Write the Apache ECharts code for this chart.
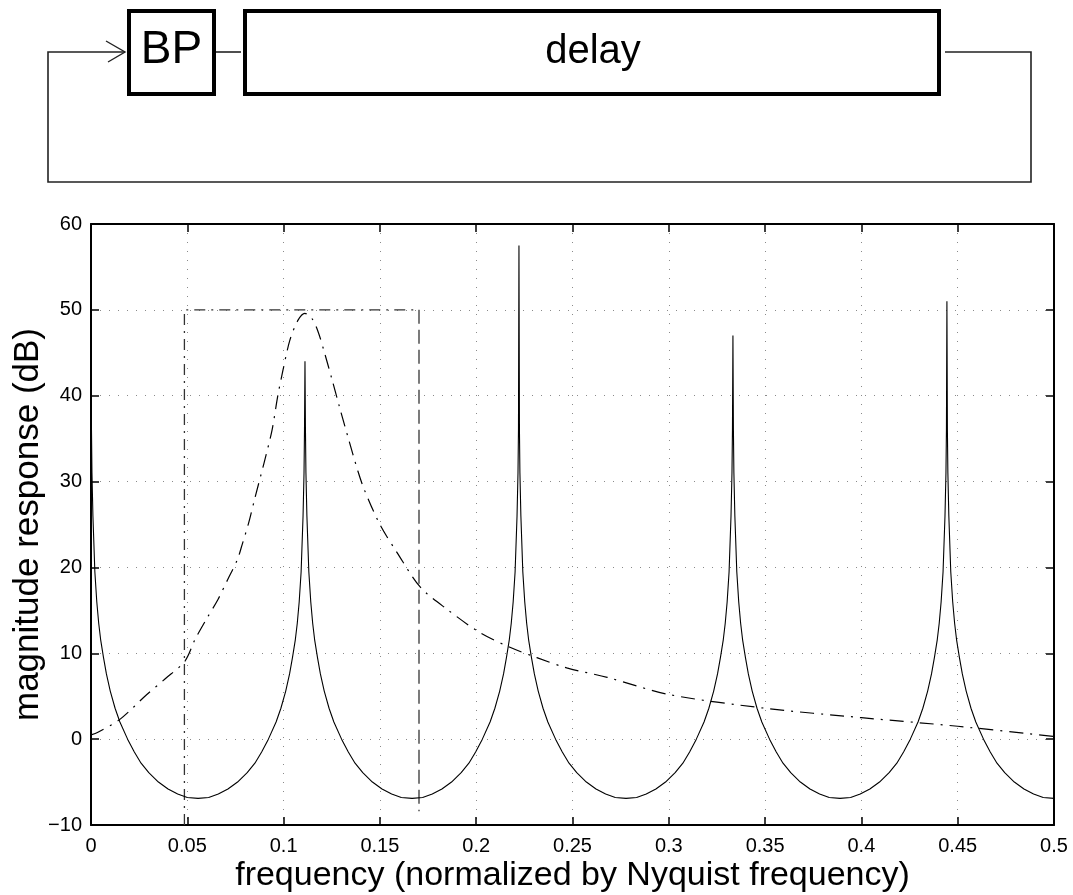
<!DOCTYPE html>
<html>
<head>
<meta charset="utf-8">
<script src="https://cdn.jsdelivr.net/npm/echarts@6/dist/echarts.min.js"></script>
<style>
html,body{margin:0;padding:0;background:#fff;}
#chart{width:1073px;height:895px;}
</style>
</head>
<body>
<div id="chart"></div>
<script>
// ---- data ----
// comb-filter resonance peaks (frequency, dB)
const peakFreqs = [0, 0.1111, 0.2222, 0.3333, 0.4444];
const peakDb    = [42, 44, 57.5, 47, 51];
// shape of one lobe: distance from a peak -> dB
const lobeOffsets = [0.00025, 0.0005, 0.001, 0.002, 0.003, 0.004, 0.005, 0.0065, 0.008, 0.010, 0.0125, 0.015, 0.019, 0.0225, 0.026, 0.030, 0.035, 0.040, 0.045, 0.050, 0.0556];
const lobeDb      = [36, 31, 26, 19.5, 16, 13.5, 11.6, 9.5, 7.6, 5.6, 3.6, 2.0, 0, -1.5, -2.8, -3.9, -5.0, -5.8, -6.4, -6.8, -6.9];

// band-pass filter response (dash-dot)
const bpFreq = [0, 0.0036, 0.015, 0.029, 0.0384, 0.0488, 0.054, 0.060, 0.066, 0.071, 0.076, 0.0784, 0.082, 0.085, 0.090, 0.094, 0.097, 0.0997, 0.1033, 0.1075, 0.111, 0.1147, 0.118, 0.1215, 0.125, 0.129, 0.1334, 0.1386, 0.142, 0.150, 0.159, 0.171, 0.185, 0.202, 0.2175, 0.2315, 0.247, 0.268, 0.30, 0.35, 0.40, 0.45, 0.5];
const bpDb   = [0.5, 0.8, 2.3, 5.2, 7.0, 9.1, 11.6, 14, 16.3, 18.6, 20.9, 22.6, 25.3, 28, 32.3, 36, 40, 43, 46.5, 48.8, 49.6, 49, 47.4, 44.8, 42, 38.7, 35.2, 31.2, 29, 25, 21.7, 17.7, 15.1, 12.4, 10.7, 9.5, 8.3, 7.2, 5.2, 3.6, 2.5, 1.5, 0.3];

// ideal pass band outline
const bandEdges = [0.0485, 0.1703];
const bandTop = 50;
const bandBottoms = [-10, -8.4];

const xTicks = [0, 0.05, 0.1, 0.15, 0.2, 0.25, 0.3, 0.35, 0.4, 0.45, 0.5];
const yTicks = [-10, 0, 10, 20, 30, 40, 50, 60];

// ---- build tables ----
const combData = [];
peakFreqs.forEach(function (p, i) {
  if (i > 0) {
    for (let k = lobeOffsets.length - 2; k >= 0; k--) combData.push([p - lobeOffsets[k], lobeDb[k]]);
  }
  combData.push([p, peakDb[i]]);
  for (let k = 0; k < lobeOffsets.length; k++) {
    const f = p + lobeOffsets[k];
    if (f <= 0.5 + 1e-9) combData.push([Math.min(f, 0.5), lobeDb[k]]);
  }
});
const bpData = bpFreq.map(function (f, i) { return [f, bpDb[i]]; });
const bandOutline = [[bandEdges[0], bandBottoms[0]], [bandEdges[0], bandTop], [bandEdges[1], bandTop]];
const bandRight = [[bandEdges[1], bandTop], [bandEdges[1], bandBottoms[1]]];

const FONT = '"Liberation Sans", Arial, Helvetica, sans-serif';
const chart = echarts.init(document.getElementById('chart'), null, {renderer: 'canvas'});

function fmtY(v) { return v < 0 ? '\u2212' + Math.abs(v) : String(v); }

const gridStyle = {show: true, lineStyle: {color: '#8a8a8a', width: 1, type: [1, 8]}};
const xBase = {type: 'value', min: xTicks[0], max: xTicks[xTicks.length - 1], interval: 0.05};
const yBase = {type: 'value', min: yTicks[0], max: yTicks[yTicks.length - 1], interval: 10};

chart.setOption({
  animation: false,
  backgroundColor: '#fff',
  grid: {left: 91, right: 19, top: 224, bottom: 70, containLabel: false, outerBoundsMode: 'none'},
  xAxis: [
    Object.assign({}, xBase, {
      position: 'bottom',
      axisLine: {show: true, onZero: false, lineStyle: {color: '#000', width: 2}},
      axisTick: {show: true, inside: true, length: 8, lineStyle: {color: '#000', width: 1.5}},
      axisLabel: {show: true, color: '#000', fontSize: 20, fontFamily: FONT, margin: 11,
                  formatter: function (v) { return String(+v.toFixed(2)); }},
      splitLine: gridStyle,
      name: 'frequency (normalized by Nyquist frequency)',
      nameLocation: 'middle', nameGap: 34, nameMoveOverlap: false,
      nameTextStyle: {color: '#000', fontSize: 34, fontFamily: FONT}
    }),
    Object.assign({}, xBase, {
      position: 'top',
      axisLine: {show: true, onZero: false, lineStyle: {color: '#000', width: 2}},
      axisTick: {show: true, inside: true, length: 8, lineStyle: {color: '#000', width: 1.5}},
      axisLabel: {show: false},
      splitLine: {show: false}
    })
  ],
  yAxis: [
    Object.assign({}, yBase, {
      position: 'left',
      axisLine: {show: true, onZero: false, lineStyle: {color: '#000', width: 2}},
      axisTick: {show: true, inside: true, length: 8, lineStyle: {color: '#000', width: 1.5}},
      axisLabel: {show: true, color: '#000', fontSize: 20, fontFamily: FONT, margin: 9, formatter: fmtY},
      splitLine: gridStyle,
      name: 'magnitude response (dB)',
      nameLocation: 'middle', nameGap: 45, nameMoveOverlap: false,
      nameTextStyle: {color: '#000', fontSize: 35, fontFamily: FONT}
    }),
    Object.assign({}, yBase, {
      position: 'right',
      axisLine: {show: true, onZero: false, lineStyle: {color: '#000', width: 2}},
      axisTick: {show: true, inside: true, length: 8, lineStyle: {color: '#000', width: 1.5}},
      axisLabel: {show: false},
      splitLine: {show: false}
    })
  ],
  series: [
    {
      name: 'band', type: 'line', data: bandOutline, symbol: 'none', silent: true,
      lineStyle: {color: '#333', width: 1.3, type: [11, 6, 2, 6]}, z: 2
    },
    {
      name: 'bandRight', type: 'line', data: bandRight, symbol: 'none', silent: true,
      lineStyle: {color: '#333', width: 1.3, type: [14, 6]}, z: 2
    },
    {
      name: 'bandpass', type: 'line', data: bpData, symbol: 'none', smooth: 0.3, silent: true,
      lineStyle: {color: '#000', width: 1.2, type: [14, 7, 2, 7]}, z: 3
    },
    {
      name: 'comb', type: 'line', data: combData, symbol: 'none', silent: true,
      lineStyle: {color: '#000', width: 1.1}, z: 4
    }
  ],
  graphic: [
    // feedback loop wires
    {type: 'polyline', shape: {points: [[945, 52], [1031, 52], [1031, 182], [48, 182], [48, 52], [125, 52]]},
     style: {stroke: '#222', lineWidth: 1.6, fill: null}},
    {type: 'polyline', shape: {points: [[106, 41], [125, 52], [108, 62]]},
     style: {stroke: '#222', lineWidth: 1.4, fill: null}},
    {type: 'line', shape: {x1: 216, y1: 52, x2: 241, y2: 52}, style: {stroke: '#222', lineWidth: 1.6}},
    // blocks
    {type: 'rect', shape: {x: 129, y: 11, width: 85, height: 83}, style: {stroke: '#000', lineWidth: 4, fill: '#fff'}},
    {type: 'rect', shape: {x: 245, y: 11, width: 694, height: 83}, style: {stroke: '#000', lineWidth: 4, fill: '#fff'}},
    {type: 'text', x: 171.5, y: 50, style: {text: 'BP', fontSize: 46, fontFamily: FONT, fill: '#000', align: 'center', verticalAlign: 'middle'}},
    {type: 'text', x: 593, y: 52, style: {text: 'delay', fontSize: 40, fontFamily: FONT, fill: '#000', align: 'center', verticalAlign: 'middle'}}
  ]
});
</script>
</body>
</html>
